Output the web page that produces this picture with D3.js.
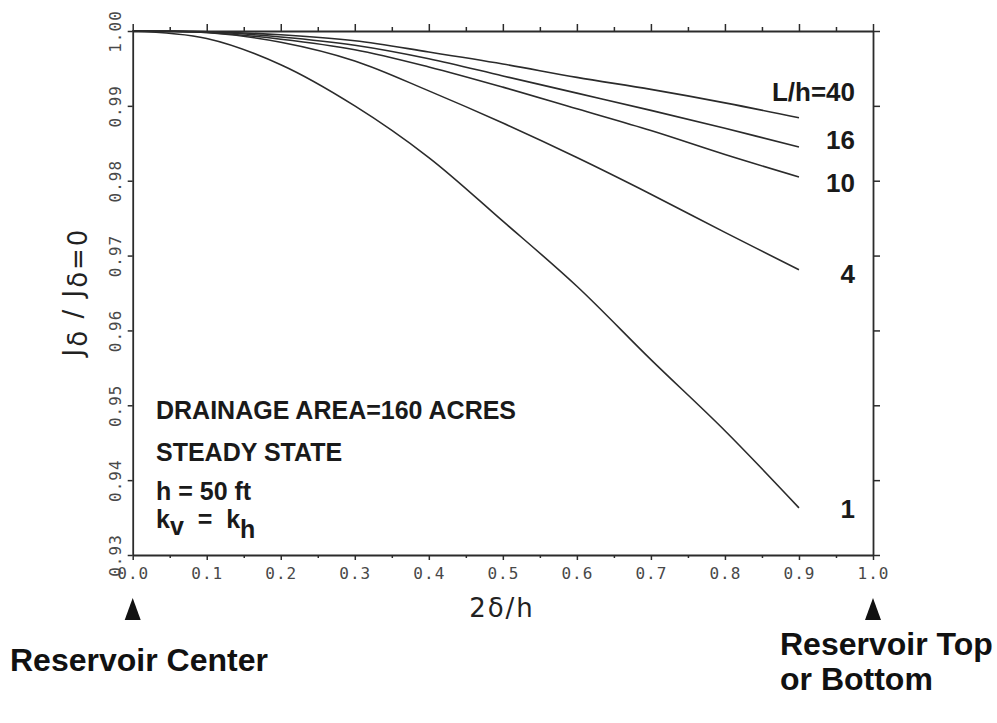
<!DOCTYPE html>
<html>
<head>
<meta charset="utf-8">
<script src="https://cdn.jsdelivr.net/npm/d3@7"></script>
<style>
  html, body { margin: 0; padding: 0; background: #ffffff; }
  svg { display: block; }
</style>
</head>
<body>
<svg id="chart" width="997" height="723"></svg>
<script>
// Dimensionless distance 2δ/h at which each curve is sampled
const xValues = [0.0, 0.1, 0.2, 0.3, 0.4, 0.5, 0.6, 0.7, 0.8, 0.9];

// Productivity ratio Jδ / Jδ=0 for each L/h
const lh40 = [1.0000, 0.9999, 0.9995, 0.9987, 0.9972, 0.9956, 0.9938, 0.9922, 0.9904, 0.9884];
const lh16 = [1.0000, 0.9999, 0.9992, 0.9981, 0.9963, 0.9940, 0.9917, 0.9894, 0.9870, 0.9845];
const lh10 = [1.0000, 0.9998, 0.9989, 0.9975, 0.9952, 0.9925, 0.9896, 0.9867, 0.9835, 0.9805];
const lh4  = [1.0000, 0.9998, 0.9985, 0.9960, 0.9920, 0.9877, 0.9831, 0.9782, 0.9731, 0.9681];
const lh1  = [1.0000, 0.9990, 0.9955, 0.9900, 0.9831, 0.9746, 0.9659, 0.9561, 0.9466, 0.9363];

const seriesValues = [lh40, lh16, lh10, lh4, lh1];
const seriesLabels = ["L/h=40", "16", "10", "4", "1"];

// Axis ticks
const xMajorTicks = [0.0, 0.1, 0.2, 0.3, 0.4, 0.5, 0.6, 0.7, 0.8, 0.9, 1.0];
const xMinorTicks = [0.05, 0.15, 0.25, 0.35, 0.45, 0.55, 0.65, 0.75, 0.85, 0.95];
const xTickLabels = ["0.0", "0.1", "0.2", "0.3", "0.4", "0.5", "0.6", "0.7", "0.8", "0.9", "1.0"];
const yTicks = [0.93, 0.94, 0.95, 0.96, 0.97, 0.98, 0.99, 1.00];
const yTickLabels = ["0.93", "0.94", "0.95", "0.96", "0.97", "0.98", "0.99", "1.00"];

const notes = ["DRAINAGE AREA=160 ACRES", "STEADY STATE", "h = 50 ft"];

// ---- layout ----
const plotLeft = 132.7, plotRight = 873, plotTop = 31, plotBottom = 555;
const svg = d3.select("#chart");

const x = d3.scaleLinear().domain([0, 1]).range([plotLeft, plotRight]);
const y = d3.scaleLinear().domain([0.93, 1.0]).range([plotBottom, plotTop]);

const ink = "#2b2b2b";
const tickInk = "#484848";
const tickFont = "'DejaVu Sans Mono', 'Liberation Mono', monospace";

function styleAxis(g) {
  g.select(".domain").attr("stroke", ink).attr("stroke-width", 1.8);
  g.selectAll(".tick line").attr("stroke", ink).attr("stroke-width", 1.5);
}

// bottom axis: major ticks with labels
const xAxisBottom = svg.append("g")
  .attr("transform", `translate(0,${plotBottom})`)
  .call(d3.axisBottom(x).tickValues(xMajorTicks).tickSize(5).tickSizeOuter(0)
    .tickFormat((d, i) => xTickLabels[i]));
styleAxis(xAxisBottom);
xAxisBottom.selectAll(".tick text")
  .attr("y", 24).attr("dy", 0)
  .style("font-family", tickFont).style("font-size", "16px")
  .style("letter-spacing", "1px").attr("fill", tickInk);

// bottom axis: minor ticks
const xAxisBottomMinor = svg.append("g")
  .attr("transform", `translate(0,${plotBottom})`)
  .call(d3.axisBottom(x).tickValues(xMinorTicks).tickSize(3).tickFormat(""));
styleAxis(xAxisBottomMinor);
xAxisBottomMinor.select(".domain").remove();

// top axis
const xAxisTop = svg.append("g")
  .attr("transform", `translate(0,${plotTop})`)
  .call(d3.axisTop(x).tickValues(xMajorTicks).tickSize(7).tickSizeOuter(0).tickFormat(""));
styleAxis(xAxisTop);
const xAxisTopMinor = svg.append("g")
  .attr("transform", `translate(0,${plotTop})`)
  .call(d3.axisTop(x).tickValues(xMinorTicks).tickSize(4).tickFormat(""));
styleAxis(xAxisTopMinor);
xAxisTopMinor.select(".domain").remove();

// left axis with rotated labels
const yAxisLeft = svg.append("g")
  .attr("transform", `translate(${plotLeft},0)`)
  .call(d3.axisLeft(y).tickValues(yTicks).tickSize(5).tickSizeOuter(0)
    .tickFormat((d, i) => yTickLabels[i]));
styleAxis(yAxisLeft);
yAxisLeft.selectAll(".tick text")
  .attr("x", 0).attr("y", 0).attr("dy", 0)
  .attr("transform", "translate(-17,0) rotate(-90)")
  .attr("text-anchor", "middle")
  .attr("dominant-baseline", "central")
  .style("font-family", tickFont).style("font-size", "16px")
  .style("letter-spacing", "1px").attr("fill", tickInk);

// right axis
const yAxisRight = svg.append("g")
  .attr("transform", `translate(${plotRight},0)`)
  .call(d3.axisRight(y).tickValues(yTicks).tickSize(7).tickSizeOuter(0).tickFormat(""));
styleAxis(yAxisRight);

// curves
const line = d3.line()
  .x((d, i) => x(xValues[i]))
  .y(d => y(d))
  .curve(d3.curveCatmullRom.alpha(0.5));

svg.append("g").selectAll("path.curve")
  .data(seriesValues)
  .join("path")
  .attr("class", "curve")
  .attr("d", d => line(d))
  .attr("fill", "none")
  .attr("stroke", ink)
  .attr("stroke-width", 1.6);

// curve labels at the right end
const labelDy = [-17, 2, 15, 13, 10];
const labelFont = "'Liberation Sans', Arial, Helvetica, sans-serif";
svg.append("g").selectAll("text.curve-label")
  .data(seriesValues)
  .join("text")
  .attr("class", "curve-label")
  .attr("x", 855)
  .attr("y", (d, i) => y(d[d.length - 1]) + labelDy[i])
  .attr("text-anchor", "end")
  .attr("font-family", labelFont)
  .attr("font-weight", "bold")
  .attr("font-size", 26)
  .attr("fill", "#1a1a1a")
  .text((d, i) => seriesLabels[i]);

// annotation block inside the plot
const noteY = [419, 461, 500];
svg.append("g").selectAll("text.note")
  .data(notes)
  .join("text")
  .attr("class", "note")
  .attr("x", 156)
  .attr("y", (d, i) => noteY[i])
  .attr("font-family", labelFont)
  .attr("font-weight", "bold")
  .attr("font-size", 25)
  .attr("fill", "#1a1a1a")
  .text(d => d);

const kLine = svg.append("text")
  .attr("x", 156).attr("y", 528)
  .attr("font-family", labelFont)
  .attr("font-weight", "bold")
  .attr("font-size", 25)
  .attr("fill", "#1a1a1a")
  .attr("xml:space", "preserve")
  .style("white-space", "pre");
kLine.append("tspan").text("k");
kLine.append("tspan").attr("dy", 7).text("v");
kLine.append("tspan").attr("dy", -7).text("  =  k");
kLine.append("tspan").attr("dy", 10).text("h");

// axis titles
const titleFont = "'DejaVu Sans', 'Liberation Sans', sans-serif";
svg.append("text")
  .attr("x", 502).attr("y", 617)
  .attr("text-anchor", "middle")
  .attr("font-family", titleFont)
  .attr("font-size", 26)
  .attr("letter-spacing", 2)
  .attr("fill", "#222")
  .text("2δ/h");

const yTitle = svg.append("text")
  .attr("transform", "translate(82,292) rotate(-90)")
  .attr("text-anchor", "middle")
  .attr("font-family", titleFont)
  .attr("font-size", 26)
  .attr("letter-spacing", 2)
  .attr("fill", "#222");
yTitle.append("tspan").text("J");
yTitle.append("tspan").attr("dy", 5).text("δ");
yTitle.append("tspan").attr("dy", -5).text(" / J");
yTitle.append("tspan").attr("dy", 5).text("δ=0");

// position markers below the axis
const tri = d3.line();
[0, 1].forEach(v => {
  const cx = x(v);
  svg.append("path")
    .attr("d", tri([[cx - 8, 620], [cx + 8, 620], [cx, 598]]) + "Z")
    .attr("fill", "#111");
});

// location captions
const capFont = "'Liberation Sans', Arial, Helvetica, sans-serif";
svg.append("text")
  .attr("x", 10).attr("y", 671)
  .attr("font-family", capFont).attr("font-weight", "bold")
  .attr("font-size", 32).attr("fill", "#111")
  .text("Reservoir Center");
svg.append("text")
  .attr("x", 780).attr("y", 655)
  .attr("font-family", capFont).attr("font-weight", "bold")
  .attr("font-size", 32).attr("fill", "#111")
  .text("Reservoir Top");
svg.append("text")
  .attr("x", 780).attr("y", 690)
  .attr("font-family", capFont).attr("font-weight", "bold")
  .attr("font-size", 32).attr("fill", "#111")
  .text("or Bottom");
</script>
</body>
</html>
